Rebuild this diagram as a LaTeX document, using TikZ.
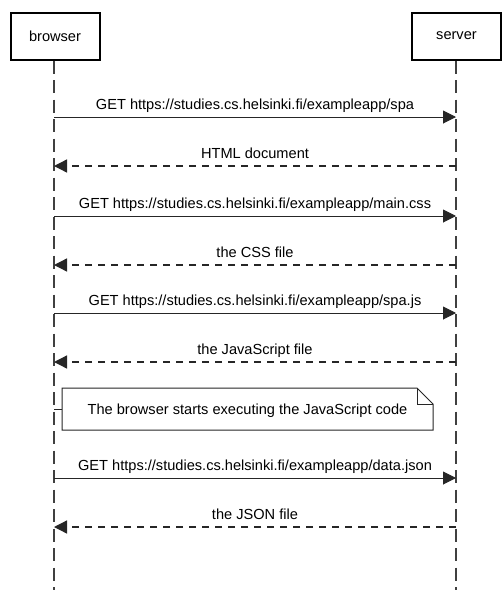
\documentclass[tikz,border=0pt]{standalone}
\usepackage{fontspec}
\setmainfont{Liberation Sans}
\usetikzlibrary{arrows.meta}
\begin{document}
\begin{tikzpicture}[x=1pt,y=-1pt,
  font=\fontsize{14.6}{17}\selectfont,
  actor/.style={draw=black,line width=2pt,minimum width=89pt,minimum height=47pt,inner sep=0pt},
  life/.style={draw=black!75,line width=1.6pt,dash pattern=on 13pt off 6.5pt},
  req/.style={draw=black!85,line width=1pt,-{Triangle[length=13pt,width=13pt]}},
  resp/.style={draw=black!85,line width=1.3pt,dash pattern=on 7pt off 6pt,-{Triangle[length=13pt,width=13pt]}},
  lbl/.style={inner sep=0pt,anchor=base}]
\useasboundingbox (0,0) rectangle (504,590);
% actors
\node[actor] (browser) at (55,36) {browser};
\node[actor] (server) at (456.5,36) {server};
\coordinate (bEnd) at (54,590);
\coordinate (sEnd) at (456,590);
\draw[life] (browser.south -| bEnd) -- (bEnd);
\draw[life] (server.south -| sEnd) -- (sEnd);
% messages
\foreach \y/\txt/\kind in {
  117/{GET https://studies.cs.helsinki.fi/exampleapp/spa}/req,
  166/{HTML document}/resp,
  216/{GET https://studies.cs.helsinki.fi/exampleapp/main.css}/req,
  265/{the CSS file}/resp,
  313/{GET https://studies.cs.helsinki.fi/exampleapp/spa.js}/req,
  362/{the JavaScript file}/resp,
  478/{GET https://studies.cs.helsinki.fi/exampleapp/data.json}/req,
  527/{the JSON file}/resp}{
  \coordinate (L\y) at (54,\y);
  \coordinate (R\y) at (456,\y);
  \node[lbl] (T\y) at (255,\y-7.5) {\txt};
}
\draw[req] (L117) -- (R117);
\draw[resp] (R166) -- (L166);
\draw[req] (L216) -- (R216);
\draw[resp] (R265) -- (L265);
\draw[req] (L313) -- (R313);
\draw[resp] (R362) -- (L362);
\draw[req] (L478) -- (R478);
\draw[resp] (R527) -- (L527);
% note
\draw[line width=1pt,draw=black!85,fill=white]
  (62,388) -- (417,388) -- (433,404) -- (433,430) -- (62,430) -- cycle;
\draw[line width=1pt,draw=black!85] (417,388) -- (417,404) -- (433,404);
\node[inner sep=0pt,anchor=base] (note) at (247.5,414) {The browser starts executing the JavaScript code};
\coordinate (nL) at (62,409);
\coordinate (nB) at (54,409);
\draw[line width=1pt,draw=black!85] (nB) -- (nL);
\end{tikzpicture}
\end{document}
